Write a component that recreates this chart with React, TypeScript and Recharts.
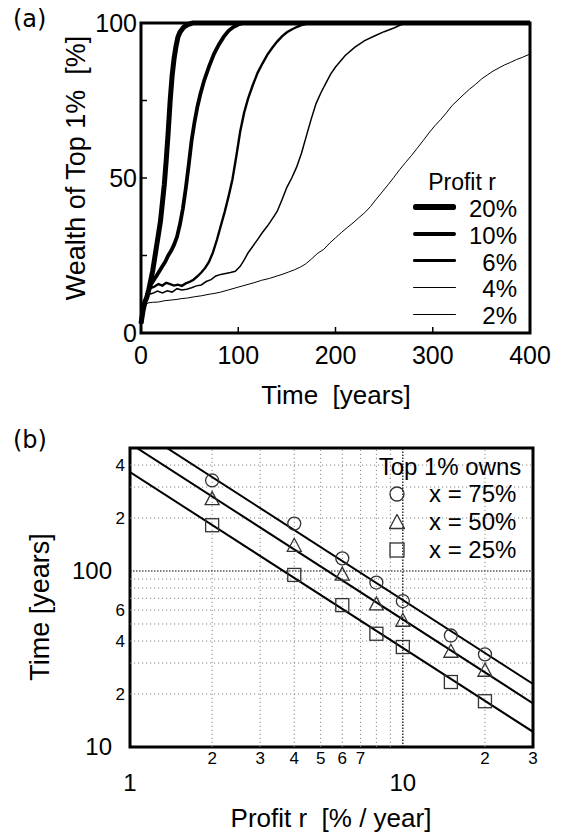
import React from 'react'
import {
  LineChart,
  Line,
  XAxis,
  YAxis,
  ReferenceArea,
  ReferenceLine,
  ComposedChart,
  Scatter,
} from 'recharts'

const FONT = '"Liberation Sans", Arial, Helvetica, sans-serif'

// ---- (a) wealth of top 1% [%] vs time [years], pairs of [year, %]
const r20 = [[0, 3], [2, 7], [4, 10], [6, 11.5], [8, 14], [10, 17], [12, 20], [14, 24], [16, 28], [18, 32], [20, 36], [22, 42], [24, 48], [26, 56], [28, 65], [30, 75], [32, 83], [34, 88.5], [36, 92.5], [38, 95.5], [40, 97], [44, 98.7], [48, 99.5], [53, 100], [400, 100]]
const r10 = [[0, 3], [2, 7], [4, 10], [6, 12], [8, 14], [10, 15.5], [13, 17], [16, 18.5], [19, 20], [22, 21.5], [25, 23], [28, 25], [31, 26.5], [34, 28.5], [37, 31], [40, 35], [43, 40], [46, 46.5], [49, 54], [52, 62], [55, 68], [58, 73], [61, 77], [65, 81.5], [70, 86], [75, 90], [80, 93], [85, 95.5], [90, 97.5], [95, 98.7], [100, 99.5], [105, 100], [400, 100]]
const r6 = [[0, 3], [2, 7], [4, 10], [6, 12.5], [8, 13.5], [10, 14.5], [14, 15], [18, 15.8], [22, 15.3], [26, 16.2], [30, 15.8], [34, 15.3], [38, 15.6], [42, 15.2], [46, 16], [50, 16.5], [54, 17.2], [58, 18.3], [62, 19.5], [66, 21], [70, 23], [74, 26], [78, 30], [82, 34.5], [86, 39], [90, 44], [94, 49.5], [98, 57], [102, 65], [106, 71], [110, 75.5], [115, 80], [120, 84], [125, 87], [130, 89.8], [135, 92], [140, 94], [145, 95.7], [150, 97], [155, 97.9], [160, 98.7], [165, 99.3], [170, 99.7], [177, 100], [400, 100]]
const r4 = [[0, 3], [2, 7], [4, 10], [7, 12.3], [12, 12.8], [17, 13.5], [22, 12.9], [27, 13.6], [32, 13.2], [37, 14.3], [42, 13.9], [47, 14.1], [52, 14.6], [57, 15.2], [62, 15.5], [67, 16.6], [72, 17.2], [77, 18.4], [82, 18.9], [87, 19.2], [92, 19.5], [97, 19.9], [102, 21.5], [106, 23.5], [110, 25.8], [115, 28], [120, 30.2], [125, 32.5], [130, 34.5], [135, 36.8], [140, 39.2], [145, 43], [150, 47], [155, 50], [160, 53.5], [165, 58], [170, 63.5], [175, 69], [180, 74], [185, 77.5], [190, 80.5], [195, 83.5], [200, 85.8], [210, 89.5], [220, 92.2], [230, 94.3], [240, 95.8], [250, 97.2], [260, 98.4], [268, 99.5], [275, 100], [400, 100]]
const r2 = [[0, 3], [2, 6], [4, 8.5], [7, 9.7], [12, 9.9], [18, 10], [24, 10.4], [30, 10.6], [36, 10.8], [42, 11.1], [48, 11.3], [55, 11.7], [62, 12], [70, 12.5], [76, 12.8], [82, 13.2], [90, 13.9], [100, 14.8], [108, 15.5], [116, 16.2], [124, 17], [132, 17.6], [140, 18.4], [146, 19], [152, 19.7], [158, 20.4], [164, 21.3], [169, 22.2], [175, 23.8], [182, 25.8], [188, 27], [194, 29], [200, 30.7], [206, 32.4], [212, 34], [218, 35.5], [224, 37.2], [230, 38.8], [236, 40.8], [242, 43.2], [248, 45.5], [254, 47.8], [260, 50.2], [266, 52.7], [272, 55], [278, 57.2], [284, 59.6], [290, 62], [296, 64.5], [302, 66.8], [308, 68.8], [314, 71], [320, 73.4], [326, 75.2], [332, 77], [338, 78.7], [344, 80.2], [350, 81.9], [356, 83.2], [362, 84.5], [368, 85.5], [374, 86.5], [380, 87.3], [386, 88.2], [392, 88.9], [400, 90]]

const profitLabels = ['20%', '10%', '6%', '4%', '2%']
const timeTicks = [0, 100, 200, 300, 400]
const wealthTicks = [0, 25, 50, 75, 100]

// ---- (b) time [years] for the top 1% to own x, vs profit r [%/year]
const profit = [2, 4, 6, 8, 10, 15, 20]
const t75 = [327, 186, 118, 86, 67.5, 43, 33.6]
const t50 = [258, 140, 96, 65, 52.5, 35, 27.3]
const t25 = [182, 95, 64, 44, 37, 23.4, 18.2]
const fitR = [1, 30]
const fit75 = [683, 22.8]
const fit50 = [530, 17.7]
const fit25 = [365, 12.2]
const ownsLabels = ['x = 75%', 'x = 50%', 'x = 25%']

const rTicks = [1, 2, 3, 4, 5, 6, 7, 10, 20, 30]
const rTickText: Record<number, string> = { 1: '1', 2: '2', 3: '3', 4: '4', 5: '5', 6: '6', 7: '7', 10: '10', 20: '2', 30: '3' }
const yTicks = [10, 20, 40, 60, 100, 200, 400]
const yTickText: Record<number, string> = { 10: '10', 20: '2', 40: '4', 60: '6', 100: '100', 200: '2', 400: '4' }
const gridR = [2, 3, 4, 5, 6, 7, 8, 9, 20]
const gridT = [20, 30, 40, 50, 60, 70, 80, 90, 200, 300, 400]

const toPts = (arr: number[][]) => arr.map(([t, v]) => ({ t, v }))
const toXY = (xs: number[], ys: number[]) => xs.map((x, i) => ({ x, y: ys[i] }))

const widthsA = [5, 3.8, 2.4, 1.5, 1]
const seriesA = [r20, r10, r6, r4, r2]

function Txt({ x, y, size, anchor = 'middle', rotate = false, family = FONT, children }: any) {
  const tx = anchor === 'middle' ? '-50%' : anchor === 'end' ? '-100%' : '0'
  return (
    <div
      style={{
        position: 'absolute',
        left: x,
        top: y,
        fontSize: size,
        fontFamily: family,
        lineHeight: 1,
        whiteSpace: 'pre',
        color: '#000',
        transform: `translate(${tx},-50%)${rotate ? ' rotate(-90deg)' : ''}`,
      }}
    >
      {children}
    </div>
  )
}

const TickAX = ({ x, y, payload }: any) => (
  <g>
    <line x1={x} y1={y} x2={x} y2={y - 6} stroke="#000" strokeWidth={1.5} />
    <text x={x} y={y + 31} textAnchor="middle" fontSize={25} fontFamily={FONT} fill="#000">
      {payload.value}
    </text>
  </g>
)

const TickAY = ({ x, y, payload }: any) => (
  <g>
    <line x1={x} y1={y} x2={x + 6} y2={y} stroke="#000" strokeWidth={1.5} />
    {payload.value % 50 === 0 && (
      <text x={x - 4} y={y + 9} textAnchor="end" fontSize={25} fontFamily={FONT} fill="#000">
        {payload.value}
      </text>
    )}
  </g>
)

const TickBX = ({ x, y, payload }: any) => {
  const big = payload.value === 1 || payload.value === 10
  return (
    <text x={x} y={big ? y + 44 : y + 17} textAnchor="middle" fontSize={big ? 24 : 17} fontFamily={FONT} fill="#000">
      {rTickText[payload.value]}
    </text>
  )
}

const TickBY = ({ x, y, payload }: any) => {
  const big = payload.value === 10 || payload.value === 100
  return (
    <text x={big ? x - 18 : x - 5} y={big ? y + 8 : y + 6} textAnchor="end" fontSize={big ? 24 : 17} fontFamily={FONT} fill="#000">
      {yTickText[payload.value]}
    </text>
  )
}

const MK = '#333'
const CircleMark = (p: any) => <circle cx={p.cx} cy={p.cy} r={6.5} fill="none" stroke={MK} strokeWidth={1.3} />
const TriMark = (p: any) => (
  <polygon
    points={`${p.cx},${p.cy - 7} ${p.cx - 7},${p.cy + 6} ${p.cx + 7},${p.cy + 6}`}
    fill="none"
    stroke={MK}
    strokeWidth={1.3}
  />
)
const SqMark = (p: any) => (
  <rect x={p.cx - 6.5} y={p.cy - 6.5} width={13} height={13} fill="none" stroke={MK} strokeWidth={1.3} />
)

function WealthChart() {
  return (
    <LineChart width={565} height={420} margin={{ top: 23, right: 35, left: 0, bottom: 0 }}>
      <XAxis
        dataKey="t"
        type="number"
        domain={[0, 400]}
        ticks={timeTicks}
        interval={0}
        height={87}
        axisLine={false}
        tickLine={false}
        tickSize={0}
        tickMargin={0}
        tick={TickAX}
      />
      <YAxis
        type="number"
        domain={[0, 100]}
        ticks={wealthTicks}
        interval={0}
        width={141}
        axisLine={false}
        tickLine={false}
        tickSize={0}
        tickMargin={0}
        tick={TickAY}
      />
      {seriesA
        .map((s, i) => (
          <Line
            key={profitLabels[i]}
            data={toPts(s)}
            dataKey="v"
            type="linear"
            stroke="#000"
            strokeWidth={widthsA[i]}
            dot={false}
            isAnimationActive={false}
          />
        ))
        .reverse()}
      <ReferenceArea x1={0} x2={400} y1={0} y2={100} fill="none" stroke="#000" strokeWidth={3} ifOverflow="visible" />
    </LineChart>
  )
}

function TimeChart() {
  return (
    <ComposedChart width={565} height={418} margin={{ top: 28, right: 32, left: 0, bottom: 0 }}>
      <XAxis
        dataKey="x"
        type="number"
        scale="log"
        domain={[1, 30]}
        allowDataOverflow
        ticks={rTicks}
        interval={0}
        height={91}
        axisLine={false}
        tickLine={false}
        tickSize={0}
        tickMargin={0}
        tick={TickBX}
      />
      <YAxis
        dataKey="y"
        type="number"
        scale="log"
        domain={[10, 500]}
        allowDataOverflow
        ticks={yTicks}
        interval={0}
        width={130}
        axisLine={false}
        tickLine={false}
        tickSize={0}
        tickMargin={0}
        tick={TickBY}
      />
      {gridR.map((v) => (
        <ReferenceLine key={'gx' + v} x={v} stroke="#888" strokeWidth={1} strokeDasharray="1.2 2.8" />
      ))}
      {gridT.map((v) => (
        <ReferenceLine key={'gy' + v} y={v} stroke="#888" strokeWidth={1} strokeDasharray="1.2 2.8" />
      ))}
      <ReferenceLine x={10} stroke="#000" strokeWidth={1.2} strokeDasharray="1.5 1.5" />
      <ReferenceLine y={100} stroke="#000" strokeWidth={1.2} strokeDasharray="1.5 1.5" />
      <Line data={toXY(fitR, fit75)} dataKey="y" type="linear" stroke="#000" strokeWidth={2} dot={false} isAnimationActive={false} />
      <Line data={toXY(fitR, fit50)} dataKey="y" type="linear" stroke="#000" strokeWidth={2} dot={false} isAnimationActive={false} />
      <Line data={toXY(fitR, fit25)} dataKey="y" type="linear" stroke="#000" strokeWidth={2} dot={false} isAnimationActive={false} />
      <Scatter data={toXY(profit, t75)} shape={CircleMark} isAnimationActive={false} />
      <Scatter data={toXY(profit, t50)} shape={TriMark} isAnimationActive={false} />
      <Scatter data={toXY(profit, t25)} shape={SqMark} isAnimationActive={false} />
      <ReferenceArea x1={1} x2={30} y1={10} y2={500} fill="none" stroke="#000" strokeWidth={3} ifOverflow="visible" />
    </ComposedChart>
  )
}

export default function App() {
  const legendMarks = [
    <circle key="c" cx={8} cy={8} r={7} fill="none" stroke={MK} strokeWidth={1.3} />,
    <polygon key="t" points="8,0.5 0.5,14.5 15.5,14.5" fill="none" stroke={MK} strokeWidth={1.3} />,
    <rect key="s" x={1} y={1} width={14} height={14} fill="none" stroke={MK} strokeWidth={1.3} />,
  ]
  return (
    <div style={{ position: 'absolute', left: 0, top: 0, width: 565, height: 838, background: '#fff', fontFamily: FONT }}>
      <div style={{ position: 'absolute', left: 0, top: 0 }}>
        <WealthChart />
      </div>
      <div style={{ position: 'absolute', left: 0, top: 420 }}>
        <TimeChart />
      </div>

      {/* panel (a) texts */}
      <Txt x={13} y={19} size={24} anchor="start" family='"DejaVu Sans", sans-serif'>(a)</Txt>
      <Txt x={76} y={168} size={27} rotate>{'Wealth of Top 1%  [%]'}</Txt>
      <Txt x={336} y={395} size={26}>{'Time  [years]'}</Txt>
      <Txt x={462} y={182} size={23}>Profit r</Txt>
      {profitLabels.map((lab, i) => {
        const y = 207 + i * 26.8
        return (
          <React.Fragment key={lab}>
            <div
              style={{
                position: 'absolute',
                left: 413,
                top: y - widthsA[i] / 2 - (i === 0 ? 0.5 : 0),
                width: 43,
                height: widthsA[i] + (i === 0 ? 1 : 0),
                background: '#000',
                borderRadius: widthsA[i] / 2,
              }}
            />
            <Txt x={517} y={y + 2} size={24} anchor="end">{lab}</Txt>
          </React.Fragment>
        )
      })}

      {/* panel (b) texts */}
      <Txt x={13} y={440} size={24} anchor="start" family='"DejaVu Sans", sans-serif'>(b)</Txt>
      <Txt x={40} y={607} size={27} rotate>{'Time [years]'}</Txt>
      <Txt x={331} y={818} size={26}>{'Profit r  [% / year]'}</Txt>
      <Txt x={450} y={467} size={24}>Top 1% owns</Txt>
      {ownsLabels.map((lab, i) => {
        const y = 494 + i * 28
        return (
          <React.Fragment key={lab}>
            <svg width={16} height={16} style={{ position: 'absolute', left: 389, top: y - 8 }}>
              {legendMarks[i]}
            </svg>
            <Txt x={429} y={y} size={24} anchor="start">{lab}</Txt>
          </React.Fragment>
        )
      })}
    </div>
  )
}
